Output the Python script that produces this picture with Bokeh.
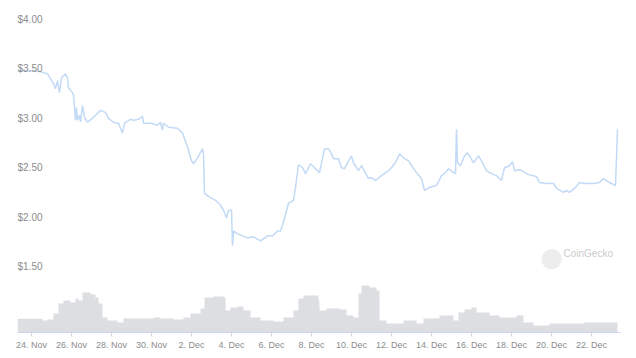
from bokeh.plotting import figure
from bokeh.models import Range1d, FixedTicker, Label
from bokeh.core.properties import value
from bokeh.embed import file_html
from bokeh.resources import INLINE

# time in days since 24 Nov 00:00
price_days = [-0.70, -0.30, 0.10, 0.45, 0.80, 1.10, 1.20, 1.30, 1.40, 1.50, 1.70, 1.80, 1.85,
              2.05, 2.10, 2.20, 2.25, 2.30, 2.40, 2.45, 2.55, 2.65, 2.80, 3.05, 3.20, 3.45,
              3.70, 3.85, 4.10, 4.35, 4.55, 4.65, 4.95, 5.10, 5.35, 5.55, 5.60, 5.95, 6.30,
              6.45, 6.55, 6.60, 6.85, 7.30, 7.55, 7.80, 8.00, 8.10, 8.30, 8.55, 8.60, 8.65,
              8.85, 9.20, 9.45, 9.60, 9.75, 9.85, 10.00, 10.05, 10.10, 10.30, 10.80, 11.10,
              11.45, 11.80, 12.05, 12.30, 12.45, 12.60, 12.85, 13.10, 13.20, 13.35, 13.55,
              13.70, 13.95, 14.20, 14.40, 14.65, 14.85, 15.00, 15.10, 15.35, 15.50, 15.65,
              15.85, 16.00, 16.10, 16.35, 16.50, 16.85, 17.00, 17.20, 17.50, 17.85, 18.00,
              18.25, 18.40, 18.60, 18.85, 19.10, 19.25, 19.50, 19.65, 19.90, 20.25, 20.50,
              20.65, 20.85, 21.10, 21.20, 21.25, 21.30, 21.45, 21.65, 21.80, 21.90, 22.10,
              22.35, 22.50, 22.75, 23.00, 23.25, 23.50, 23.65, 23.90, 24.05, 24.15, 24.40,
              24.85, 25.25, 25.40, 25.75, 26.10, 26.25, 26.60, 26.75, 26.90, 27.15, 27.40,
              27.65, 28.10, 28.40, 28.60, 28.90, 29.20, 29.30]
price_usd = [3.49, 3.48, 3.48, 3.47, 3.45, 3.35, 3.30, 3.38, 3.26, 3.41, 3.45, 3.41, 3.31,
             3.26, 3.23, 2.98, 3.11, 2.98, 3.03, 2.96, 3.13, 3.01, 2.96, 3.00, 3.03, 3.08,
             3.06, 3.00, 2.96, 2.95, 2.85, 2.95, 2.99, 2.98, 2.99, 3.02, 2.95, 2.95, 2.93,
             2.96, 2.88, 2.95, 2.91, 2.90, 2.85, 2.71, 2.57, 2.54, 2.60, 2.69, 2.64, 2.24,
             2.21, 2.17, 2.12, 2.07, 1.99, 2.07, 2.07, 1.71, 1.86, 1.83, 1.79, 1.80,
             1.76, 1.81, 1.81, 1.86, 1.86, 1.95, 2.14, 2.17, 2.30, 2.53, 2.50,
             2.44, 2.54, 2.49, 2.45, 2.69, 2.69, 2.64, 2.59, 2.59, 2.50, 2.49,
             2.57, 2.62, 2.55, 2.47, 2.52, 2.39, 2.40, 2.37, 2.42, 2.47, 2.50,
             2.57, 2.64, 2.60, 2.57, 2.49, 2.45, 2.39, 2.27, 2.30, 2.32, 2.42,
             2.44, 2.49, 2.45, 2.44, 2.89, 2.55, 2.52, 2.62, 2.65, 2.62, 2.55,
             2.62, 2.57, 2.47, 2.44, 2.42, 2.37, 2.50, 2.52, 2.56, 2.47, 2.48,
             2.43, 2.41, 2.35, 2.34, 2.34, 2.29, 2.25, 2.27, 2.25, 2.29, 2.35,
             2.34, 2.34, 2.35, 2.39, 2.35, 2.32, 2.89]

vol_days = [-0.70, 0.55, 0.80, 1.10, 1.35, 1.60, 1.95, 2.20, 2.35, 2.55, 2.95, 3.20, 3.35,
            3.55, 3.80, 4.30, 4.60, 6.10, 6.45, 7.10, 7.60, 7.95, 8.45, 8.65, 9.10, 9.60,
            9.70, 9.95, 10.30, 10.60, 10.95, 11.45, 12.10, 12.60, 13.10, 13.35, 13.60,
            14.05, 14.35, 14.40, 14.75, 15.40, 15.75, 16.10, 16.35, 16.50, 16.90, 17.25,
            17.40, 17.75, 18.60, 19.25, 19.60, 20.40, 21.10, 21.35, 21.65, 22.00, 22.25,
            22.90, 23.40, 24.25, 24.60, 25.10, 25.90, 26.75, 27.60]
vol_end_day = 29.30
vol_musd = [1.37, 1.20, 1.30, 1.90, 2.90, 3.20, 3.00, 3.40, 3.20, 4.00, 3.80, 3.50, 2.90,
            1.50, 1.20, 1.00, 1.40, 1.50, 1.40, 1.30, 1.50, 1.90, 2.40, 3.50, 3.60, 3.50,
            2.20, 2.50, 2.60, 2.20, 1.50, 1.20, 1.10, 1.50, 2.20, 3.40, 3.70,
            3.70, 3.20, 2.20, 2.40, 2.30, 1.70, 1.50, 3.90, 4.70, 4.50, 4.20,
            1.20, 0.90, 1.20, 0.90, 1.40, 1.70, 1.20, 2.00, 2.30, 2.50, 2.00,
            1.70, 1.50, 1.70, 1.00, 0.70, 0.90, 0.90, 1.00]

x_tick_days = [0, 2, 4, 6, 8, 10, 12, 14, 16, 18, 20, 22, 24, 26, 28]
x_tick_labels = ["24. Nov", "26. Nov", "28. Nov", "30. Nov", "2. Dec", "4. Dec", "6. Dec",
                 "8. Dec", "10. Dec", "12. Dec", "14. Dec", "16. Dec", "18. Dec",
                 "20. Dec", "22. Dec"]
y_tick_values = [1.5, 2.0, 2.5, 3.0, 3.5, 4.0]
y_tick_labels = ["$1.50", "$2.00", "$2.50", "$3.00", "$3.50", "$4.00"]

FONT = "Liberation Sans"
LABEL_COLOR = "#8c8c8c"

x_start, x_end = -0.70, 29.45
p = figure(width=636, height=358, output_backend="svg", toolbar_location=None,
           x_range=Range1d(x_start, x_end), y_range=Range1d(0.832, 4.091),
           y_axis_location=None, min_border_left=17, min_border_right=16,
           min_border_top=10, min_border_bottom=26)
p.outline_line_color = None
p.xgrid.visible = False
p.ygrid.visible = False
p.background_fill_color = "white"
p.border_fill_color = "white"

p.extra_y_ranges = {"vol": Range1d(0, 32.2)}

# volume as a continuous step area (each value holds until the next timestamp)
step_x = vol_days + [vol_end_day]
step_y = vol_musd + [vol_musd[-1]]
p.varea_step(x=step_x, y1=[0] * len(step_x), y2=step_y, step_mode="after",
             y_range_name="vol", fill_color="#dcdee2")

p.line(price_days, price_usd, line_color="#c2daf5", line_width=1.5)

# y labels inside plot, left aligned
p.text(x=[x_start] * len(y_tick_values), y=y_tick_values, text=y_tick_labels,
       text_font=value(FONT), text_font_size="10px", text_color=LABEL_COLOR,
       text_align="left", text_baseline="middle")

ax = p.xaxis[0]
ax.ticker = FixedTicker(ticks=x_tick_days)
ax.major_label_overrides = {d: lab for d, lab in zip(x_tick_days, x_tick_labels)}
ax.major_label_text_font = FONT
ax.major_label_text_font_size = "9px"
ax.major_label_text_color = LABEL_COLOR
ax.axis_line_color = "#ccd6eb"
ax.major_tick_line_color = "#ccd6eb"
ax.major_tick_out = 4
ax.major_tick_in = 0
ax.minor_tick_line_color = None
ax.major_label_standoff = 3

# watermark
p.add_layout(Label(x=26.0, y=1.60, text="●", text_font="DejaVu Sans",
                   text_font_size="26px", text_color="#ededed",
                   text_align="center", text_baseline="middle"))
p.add_layout(Label(x=26.6, y=1.63, text="CoinGecko", text_font=FONT,
                   text_font_size="10px", text_color="#cbcbcb",
                   text_align="left", text_baseline="middle"))

open("out.html", "w").write(file_html(p, INLINE))
